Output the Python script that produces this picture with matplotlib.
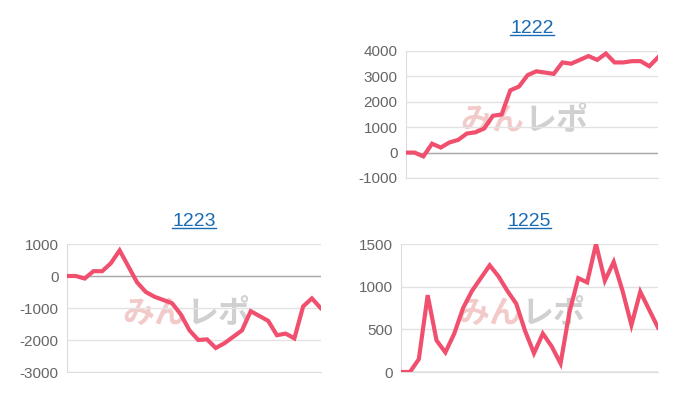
import matplotlib
matplotlib.use("Agg")
import matplotlib.pyplot as plt

plt.rcParams["axes.unicode_minus"] = False
plt.rcParams["font.family"] = ["Liberation Sans", "DejaVu Sans"]

titles = ["1222", "1223", "1225"]
s1222 = [0, 0, -150, 350, 200, 400, 500, 750, 800, 950, 1450, 1500, 2450, 2600, 3050, 3200, 3150, 3100,
         3550, 3500, 3650, 3800, 3650, 3900, 3550, 3550, 3600, 3600, 3400, 3750]
s1223 = [0, 0, -80, 150, 150, 400, 800, 300, -200, -500, -650, -750, -850, -1200, -1700, -2000, -1980,
         -2250, -2100, -1900, -1700, -1100, -1250, -1400, -1850, -1800, -1950, -950, -700, -1000]
s1225 = [0, 0, 150, 900, 370, 230, 450, 750, 950, 1100, 1250, 1120, 950, 800, 480, 220, 450, 300, 100,
         700, 1100, 1050, 1500, 1070, 1290, 950, 550, 940, 730, 520]
ticks1222 = [-1000, 0, 1000, 2000, 3000, 4000]
ticks1223 = [-3000, -2000, -1000, 0, 1000]
ticks1225 = [0, 500, 1000, 1500]

fig = plt.figure(figsize=(7, 4), dpi=100)
specs = [
    ([0.58, 0.555, 0.36, 0.3175], s1222, ticks1222, titles[0]),
    ([0.096, 0.07, 0.362, 0.32], s1223, ticks1223, titles[1]),
    ([0.573, 0.07, 0.367, 0.32], s1225, ticks1225, titles[2]),
]
for rect, data, ticks, title in specs:
    ax = fig.add_axes(rect)
    x = list(range(len(data)))
    ax.set_xlim(0, len(data) - 1)
    ax.set_ylim(ticks[0], ticks[-1])
    ax.set_yticks(ticks)
    ax.set_xticks([])
    ax.tick_params(axis="y", length=0, labelsize=11, labelcolor="#666666", pad=6)
    ax.grid(axis="y", color="#e2e2e2", lw=1)
    if 0 in ticks:
        ax.axhline(0, color="#aaaaaa", lw=1, zorder=1)
    for s in ["top", "right"]:
        ax.spines[s].set_visible(False)
    ax.spines["left"].set_color("#dddddd")
    ax.spines["bottom"].set_color("#dddddd")
    ax.set_axisbelow(True)
    ax.text(0.47, 0.45, "みん", transform=ax.transAxes, fontsize=23, fontweight="bold",
            style="italic", color="#e8a0a0", alpha=0.55, ha="right", va="center",
            family=["Noto Sans CJK JP", "DejaVu Sans"], zorder=0)
    ax.text(0.47, 0.45, "レポ", transform=ax.transAxes, fontsize=23, fontweight="bold",
            style="italic", color="#aaaaaa", alpha=0.55, ha="left", va="center",
            family=["Noto Sans CJK JP", "DejaVu Sans"], zorder=0)
    ax.plot(x, data, color="#f0506e", lw=3, zorder=3, solid_joinstyle="miter")
    t = ax.set_title(title, fontsize=14, color="#1a6bb5", pad=13)
    fig.canvas.draw()
    bb = t.get_window_extent().transformed(fig.transFigure.inverted())
    fig.add_artist(plt.Line2D([bb.x0, bb.x1], [bb.y0 + 0.004, bb.y0 + 0.004], color="#1a6bb5", lw=1))

fig.savefig("out.png", dpi=100)
